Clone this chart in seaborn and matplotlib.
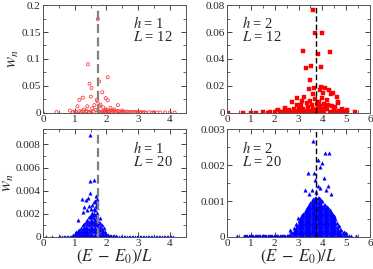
import matplotlib
matplotlib.use("Agg")
import matplotlib.pyplot as plt
import seaborn as sns
from matplotlib.ticker import MultipleLocator, FuncFormatter

# h=1, L=12 (open circles)
h1L12_x = [1.73, 1.42, 1.47, 1.53, 2.04, 1.77, 1.51, 1.26, 1.15, 1.87, 1.98, 2.04,
           1.70, 1.72, 1.09, 1.40, 1.62, 1.81, 2.36, 2.13, 1.55, 1.90, 1.66, 1.30,
           0.85, 2.25, 2.50, 1.78, 2.00, 1.95,
           0.00, 0.43, 0.95, 1.05, 1.20, 1.35, 1.45, 1.60, 1.75, 1.85, 1.92, 2.05,
           2.10, 2.18, 2.22, 2.30, 2.40, 2.45, 2.55, 2.60, 2.70, 2.80, 2.90, 3.00,
           3.10, 3.20, 3.35, 3.50, 3.70, 3.85, 4.00, 4.15, 1.00, 1.50, 2.00, 2.50,
           3.00, 1.80, 1.15, 1.25, 1.38, 2.15, 2.35, 2.65, 2.75, 2.85, 2.95, 3.05,
           3.15, 3.25, 3.45, 3.60, 1.88, 1.97, 2.08, 2.27]
h1L12_y = [0.174, 0.090, 0.054, 0.046, 0.066, 0.058, 0.030, 0.028, 0.024, 0.038, 0.027, 0.023,
           0.024, 0.021, 0.012, 0.012, 0.014, 0.015, 0.014, 0.009, 0.008, 0.010, 0.005, 0.006,
           0.004, 0.006, 0.004, 0.012, 0.006, 0.004,
           0.000, 0.001, 0.001, 0.0015, 0.001, 0.002, 0.0015, 0.002, 0.003, 0.002, 0.003, 0.002,
           0.003, 0.002, 0.0035, 0.002, 0.0025, 0.0015, 0.002, 0.001, 0.0015, 0.001, 0.0012, 0.0008,
           0.001, 0.0006, 0.0008, 0.0005, 0.0005, 0.0004, 0.0003, 0.0003, 0.0003, 0.0005, 0.0008, 0.0005,
           0.0002, 0.0007, 0.003, 0.003, 0.003, 0.0045, 0.003, 0.002, 0.0008, 0.0006, 0.0009, 0.0004,
           0.0005, 0.0004, 0.0003, 0.0002, 0.0012, 0.0015, 0.0010, 0.0011]

# h=2, L=12 (filled squares)
h2L12_x = [3.59, 3.69, 4.00, 3.17, 4.31, 3.80, 3.52, 3.30, 3.93, 3.47, 3.44, 3.93,
           4.11, 3.89, 4.28, 3.65, 4.43, 3.24, 4.63, 2.73, 3.16, 3.97, 4.18, 3.62,
           4.64, 2.92, 3.06, 3.76, 3.90, 4.11, 4.39, 4.81, 5.02, 2.43, 2.15, 5.37,
           0.67, 0.04, 2.92, 3.34, 3.70, 4.04, 4.36, 4.67, 3.55, 3.40, 3.20, 3.00,
           2.80, 2.60, 3.60, 3.80, 4.00, 4.20, 4.50, 4.70, 4.90, 3.85, 4.25, 3.50,
           3.75, 4.05, 4.55, 3.10, 2.85, 3.30,
           1.20, 1.50, 1.80, 2.00, 2.20, 2.40, 2.55, 2.70, 2.90, 3.05, 3.25, 3.45,
           3.65, 3.85, 4.05, 4.30, 4.60, 4.85, 5.05, 1.00, 1.70, 2.30, 2.65, 3.15,
           3.55, 3.95, 4.45, 4.95]
h2L12_y = [0.0762, 0.0594, 0.0594, 0.0461, 0.0451, 0.0436, 0.0349, 0.0331, 0.0341, 0.0243, 0.0173, 0.0188,
           0.0186, 0.0168, 0.0168, 0.0181, 0.0143, 0.0118, 0.0118, 0.0080, 0.0088, 0.0113, 0.0093, 0.0138,
           0.0080, 0.0055, 0.0043, 0.0063, 0.0048, 0.0043, 0.0048, 0.0030, 0.0023, 0.0038, 0.0018, 0.0003,
           0.0, 0.0, 0.0112, 0.0075, 0.0100, 0.0149, 0.0142, 0.0075, 0.0060, 0.0040, 0.0030, 0.0025,
           0.0030, 0.0020, 0.0030, 0.0035, 0.0030, 0.0025, 0.0028, 0.0015, 0.0012, 0.0080, 0.0060, 0.0090,
           0.0020, 0.0065, 0.0040, 0.0060, 0.0015, 0.0015,
           0.0, 0.0002, 0.0003, 0.0005, 0.0006, 0.0008, 0.0010, 0.0006, 0.0008, 0.0010, 0.0008, 0.0012,
           0.0008, 0.0010, 0.0012, 0.0008, 0.0006, 0.0005, 0.0003, 0.0001, 0.0001, 0.0002, 0.0002, 0.0003,
           0.0002, 0.0003, 0.0002, 0.0001]

# h=1, L=20 (triangles)
h1L20_x = [1.47, 1.49, 1.62, 1.68, 1.70, 1.47, 1.42, 1.35, 1.22, 1.12, 1.40, 1.30,
           1.55, 1.60, 1.81, 1.91, 1.45, 1.50, 1.25, 1.65, 1.58, 1.72, 1.52, 1.66,
           0.95, 0.95,
           1.00, 1.00,
           1.05, 1.05,
           1.10, 1.10, 1.10,
           1.15, 1.15, 1.15,
           1.20, 1.20, 1.20, 1.20,
           1.25, 1.25, 1.25, 1.25,
           1.30, 1.30, 1.30, 1.30, 1.30,
           1.35, 1.35, 1.35, 1.35, 1.35,
           1.40, 1.40, 1.40, 1.40, 1.40, 1.40,
           1.45, 1.45, 1.45, 1.45, 1.45, 1.45,
           1.50, 1.50, 1.50, 1.50, 1.50, 1.50, 1.50,
           1.55, 1.55, 1.55, 1.55, 1.55, 1.55, 1.55,
           1.60, 1.60, 1.60, 1.60, 1.60, 1.60, 1.60, 1.60,
           1.65, 1.65, 1.65, 1.65, 1.65, 1.65, 1.65,
           1.70, 1.70, 1.70, 1.70, 1.70, 1.70, 1.70, 1.70,
           1.75, 1.75, 1.75, 1.75, 1.75,
           1.80, 1.80, 1.80, 1.80, 1.80,
           1.85, 1.85, 1.85, 1.85,
           1.90, 1.90, 1.90,
           1.95, 1.95,
           2.00, 2.00,
           2.05, 2.05,
           2.10,
           0.10, 0.30, 0.50, 0.60, 0.70, 0.80, 0.85, 2.20, 2.30, 2.40, 2.50, 2.60,
           2.70, 2.80, 2.90, 3.00, 3.10, 3.20, 3.30, 3.40, 3.50, 3.60, 3.70, 3.80,
           3.90, 4.00, 4.10, 0.55, 0.65, 0.75, 0.90, 2.15, 2.25, 2.35, 2.45, 2.55,
           2.65, 2.75, 2.85, 2.95, 3.05, 3.15, 3.25, 3.35, 3.45, 3.55, 3.65, 3.75,
           3.85, 3.95, 4.05]
h1L20_y = [0.0088, 0.0048, 0.0049, 0.0035, 0.0033, 0.0038, 0.0034, 0.0032, 0.0033, 0.0015, 0.0023, 0.0026,
           0.0028, 0.0030, 0.0016, 0.0008, 0.0027, 0.0024, 0.0022, 0.0031, 0.0019, 0.0029, 0.0017, 0.0027,
           0.0001, 0.0002,
           0.0001, 0.0003,
           0.0002, 0.0004,
           0.0001, 0.0003, 0.0005,
           0.0002, 0.0004, 0.0006,
           0.0001, 0.0003, 0.0005, 0.0008,
           0.0002, 0.0004, 0.0007, 0.0010,
           0.0001, 0.0003, 0.0005, 0.0008, 0.0011,
           0.0002, 0.0004, 0.0006, 0.0009, 0.0013,
           0.0001, 0.0003, 0.0005, 0.0008, 0.0011, 0.0015,
           0.0002, 0.0004, 0.0007, 0.0010, 0.0013, 0.0017,
           0.0001, 0.0003, 0.0006, 0.0009, 0.0012, 0.0015, 0.0019,
           0.0002, 0.0005, 0.0008, 0.0011, 0.0014, 0.0018, 0.0021,
           0.0001, 0.0004, 0.0007, 0.0010, 0.0013, 0.0016, 0.0020, 0.0024,
           0.0002, 0.0005, 0.0008, 0.0011, 0.0015, 0.0019, 0.0023,
           0.0001, 0.0004, 0.0007, 0.0010, 0.0013, 0.0017, 0.0021, 0.0026,
           0.0002, 0.0005, 0.0008, 0.0011, 0.0014,
           0.0001, 0.0003, 0.0006, 0.0009, 0.0012,
           0.0002, 0.0004, 0.0007, 0.0010,
           0.0001, 0.0003, 0.0005,
           0.0002, 0.0004,
           0.0001, 0.0003,
           0.0001, 0.0002,
           0.0001,
           0.00003, 0.00003, 0.00003, 0.00003, 0.00003, 0.00003, 0.00003, 0.00005, 0.00005, 0.00004, 0.00004, 0.00004,
           0.00003, 0.00003, 0.00003, 0.00003, 0.00003, 0.00003, 0.00003, 0.00003, 0.00003, 0.00003, 0.00003, 0.00003,
           0.00003, 0.00003, 0.00003, 0.00003, 0.00003, 0.00003, 0.00003, 0.00005, 0.00005, 0.00004, 0.00004, 0.00004,
           0.00003, 0.00003, 0.00003, 0.00003, 0.00003, 0.00003, 0.00003, 0.00003, 0.00003, 0.00003, 0.00003, 0.00003,
           0.00003, 0.00003, 0.00003]

# h=2, L=20 (triangles)
h2L20_x = [3.59, 4.11, 4.28, 3.80, 3.97, 3.88, 3.65, 3.41, 3.69, 3.80, 3.90, 3.55,
           3.27, 4.25, 2.99, 2.66, 4.49, 4.05, 4.35, 3.45, 3.72, 4.15,
           2.6,
           2.7, 2.7,
           2.8, 2.8, 2.8,
           2.9, 2.9, 2.9, 2.9,
           3.0, 3.0, 3.0, 3.0, 3.0,
           3.1, 3.1, 3.1, 3.1, 3.1, 3.1,
           3.2, 3.2, 3.2, 3.2, 3.2, 3.2, 3.2,
           3.3, 3.3, 3.3, 3.3, 3.3, 3.3, 3.3, 3.3,
           3.4, 3.4, 3.4, 3.4, 3.4, 3.4, 3.4, 3.4, 3.4,
           3.5, 3.5, 3.5, 3.5, 3.5, 3.5, 3.5, 3.5, 3.5, 3.5,
           3.6, 3.6, 3.6, 3.6, 3.6, 3.6, 3.6, 3.6, 3.6, 3.6, 3.6,
           3.7, 3.7, 3.7, 3.7, 3.7, 3.7, 3.7, 3.7, 3.7, 3.7, 3.7,
           3.8, 3.8, 3.8, 3.8, 3.8, 3.8, 3.8, 3.8, 3.8, 3.8, 3.8,
           3.9, 3.9, 3.9, 3.9, 3.9, 3.9, 3.9, 3.9, 3.9, 3.9, 3.9,
           4.0, 4.0, 4.0, 4.0, 4.0, 4.0, 4.0, 4.0, 4.0, 4.0,
           4.1, 4.1, 4.1, 4.1, 4.1, 4.1, 4.1, 4.1, 4.1,
           4.2, 4.2, 4.2, 4.2, 4.2, 4.2, 4.2, 4.2, 4.2,
           4.3, 4.3, 4.3, 4.3, 4.3, 4.3, 4.3, 4.3,
           4.4, 4.4, 4.4, 4.4, 4.4, 4.4, 4.4,
           4.5, 4.5, 4.5, 4.5, 4.5, 4.5,
           4.6, 4.6, 4.6, 4.6,
           4.7, 4.7, 4.7,
           4.8, 4.8,
           4.9, 4.9,
           5.0,
           2.75,
           2.85, 2.85,
           2.95, 2.95, 2.95,
           3.05, 3.05, 3.05, 3.05, 3.05,
           3.15, 3.15, 3.15, 3.15, 3.15, 3.15,
           3.25, 3.25, 3.25, 3.25, 3.25, 3.25, 3.25,
           3.35, 3.35, 3.35, 3.35, 3.35, 3.35, 3.35, 3.35,
           3.45, 3.45, 3.45, 3.45, 3.45, 3.45, 3.45, 3.45, 3.45,
           3.55, 3.55, 3.55, 3.55, 3.55, 3.55, 3.55, 3.55, 3.55, 3.55,
           3.65, 3.65, 3.65, 3.65, 3.65, 3.65, 3.65, 3.65, 3.65, 3.65,
           3.75, 3.75, 3.75, 3.75, 3.75, 3.75, 3.75, 3.75, 3.75, 3.75, 3.75,
           3.85, 3.85, 3.85, 3.85, 3.85, 3.85, 3.85, 3.85, 3.85, 3.85, 3.85,
           3.95, 3.95, 3.95, 3.95, 3.95, 3.95, 3.95, 3.95, 3.95, 3.95,
           4.05, 4.05, 4.05, 4.05, 4.05, 4.05, 4.05, 4.05, 4.05,
           4.15, 4.15, 4.15, 4.15, 4.15, 4.15, 4.15, 4.15,
           4.25, 4.25, 4.25, 4.25, 4.25, 4.25, 4.25, 4.25,
           4.35, 4.35, 4.35, 4.35, 4.35, 4.35, 4.35,
           4.45, 4.45, 4.45, 4.45, 4.45, 4.45,
           4.55, 4.55, 4.55, 4.55, 4.55,
           4.65, 4.65, 4.65,
           4.75, 4.75,
           4.85,
           0.40, 0.70, 0.80, 0.90, 1.00, 1.10, 1.20, 1.30, 1.40, 1.50, 1.60, 1.70,
           1.80, 1.90, 2.00, 2.10, 2.20, 2.30, 2.40, 2.50, 5.10, 5.20, 5.40,
           0.75, 0.85, 0.95, 1.05, 1.15, 1.25, 1.35, 1.45, 1.55, 1.65, 1.75, 1.85,
           1.95, 2.05, 2.15, 2.25, 2.35, 2.45, 2.55, 5.05]
h2L20_y = [0.00267, 0.00234, 0.00233, 0.00216, 0.00207, 0.00195, 0.00179, 0.00179, 0.00160, 0.00141, 0.00137, 0.00132,
           0.00132, 0.00141, 0.00053, 0.00020, 0.00058, 0.00165, 0.00120, 0.00120, 0.00125, 0.00130,
           0.00005,
           0.00005, 0.00015,
           0.00005, 0.00015, 0.00025,
           0.00005, 0.00015, 0.00025, 0.00035,
           0.00005, 0.00015, 0.00025, 0.00035, 0.00045,
           0.00005, 0.00015, 0.00025, 0.00035, 0.00045, 0.00055,
           0.00005, 0.00015, 0.00025, 0.00035, 0.00045, 0.00055, 0.00065,
           0.00005, 0.00015, 0.00025, 0.00035, 0.00045, 0.00055, 0.00065, 0.00075,
           0.00005, 0.00015, 0.00025, 0.00035, 0.00045, 0.00055, 0.00065, 0.00075, 0.00085,
           0.00005, 0.00015, 0.00025, 0.00035, 0.00045, 0.00055, 0.00065, 0.00075, 0.00085, 0.00095,
           0.00005, 0.00015, 0.00025, 0.00035, 0.00045, 0.00055, 0.00065, 0.00075, 0.00085, 0.00095, 0.00105,
           0.00005, 0.00015, 0.00025, 0.00035, 0.00045, 0.00055, 0.00065, 0.00075, 0.00085, 0.00095, 0.00110,
           0.00005, 0.00015, 0.00025, 0.00035, 0.00045, 0.00055, 0.00065, 0.00075, 0.00085, 0.00095, 0.00110,
           0.00005, 0.00015, 0.00025, 0.00035, 0.00045, 0.00055, 0.00065, 0.00075, 0.00085, 0.00095, 0.00105,
           0.00005, 0.00015, 0.00025, 0.00035, 0.00045, 0.00055, 0.00065, 0.00075, 0.00085, 0.00100,
           0.00005, 0.00015, 0.00025, 0.00035, 0.00045, 0.00055, 0.00065, 0.00075, 0.00090,
           0.00005, 0.00015, 0.00025, 0.00035, 0.00045, 0.00055, 0.00065, 0.00075, 0.00085,
           0.00005, 0.00015, 0.00025, 0.00035, 0.00045, 0.00055, 0.00065, 0.00075,
           0.00005, 0.00015, 0.00025, 0.00035, 0.00045, 0.00055, 0.00065,
           0.00005, 0.00015, 0.00025, 0.00035, 0.00045, 0.00055,
           0.00005, 0.00015, 0.00025, 0.00040,
           0.00005, 0.00015, 0.00030,
           0.00005, 0.00020,
           0.00005, 0.00015,
           0.00010,
           0.0001,
           0.0001, 0.0002,
           0.0001, 0.0002, 0.0003,
           0.0001, 0.0002, 0.0003, 0.0004, 0.0005,
           0.0001, 0.0002, 0.0003, 0.0004, 0.0005, 0.0006,
           0.0001, 0.0002, 0.0003, 0.0004, 0.0005, 0.0006, 0.0007,
           0.0001, 0.0002, 0.0003, 0.0004, 0.0005, 0.0006, 0.0007, 0.0008,
           0.0001, 0.0002, 0.0003, 0.0004, 0.0005, 0.0006, 0.0007, 0.0008, 0.0009,
           0.0001, 0.0002, 0.0003, 0.0004, 0.0005, 0.0006, 0.0007, 0.0008, 0.0009, 0.0010,
           0.0001, 0.0002, 0.0003, 0.0004, 0.0005, 0.0006, 0.0007, 0.0008, 0.0009, 0.0010,
           0.0001, 0.0002, 0.0003, 0.0004, 0.0005, 0.0006, 0.0007, 0.0008, 0.0009, 0.0010, 0.0011,
           0.0001, 0.0002, 0.0003, 0.0004, 0.0005, 0.0006, 0.0007, 0.0008, 0.0009, 0.0010, 0.0011,
           0.0001, 0.0002, 0.0003, 0.0004, 0.0005, 0.0006, 0.0007, 0.0008, 0.0009, 0.0010,
           0.0001, 0.0002, 0.0003, 0.0004, 0.0005, 0.0006, 0.0007, 0.0008, 0.0009,
           0.0001, 0.0002, 0.0003, 0.0004, 0.0005, 0.0006, 0.0007, 0.0008,
           0.0001, 0.0002, 0.0003, 0.0004, 0.0005, 0.0006, 0.0007, 0.0008,
           0.0001, 0.0002, 0.0003, 0.0004, 0.0005, 0.0006, 0.0007,
           0.0001, 0.0002, 0.0003, 0.0004, 0.0005, 0.0006,
           0.0001, 0.0002, 0.0003, 0.0004, 0.0005,
           0.0001, 0.0002, 0.0003,
           0.0001, 0.0002,
           0.0001,
           0.00002, 0.00002, 0.00002, 0.00002, 0.00002, 0.00002, 0.00002, 0.00002, 0.00002, 0.00002, 0.00002, 0.00002,
           0.00002, 0.00002, 0.00002, 0.00002, 0.00002, 0.00002, 0.00002, 0.00002, 0.00002, 0.00002, 0.00002,
           0.00002, 0.00002, 0.00002, 0.00002, 0.00002, 0.00002, 0.00002, 0.00002, 0.00002, 0.00002, 0.00002, 0.00002,
           0.00002, 0.00002, 0.00002, 0.00002, 0.00002, 0.00002, 0.00002, 0.00002]

# vertical reference lines
vline_h1 = 1.73
vline_h2 = 3.72

sns.set_style("ticks")
plt.rcParams['font.family'] = ['Liberation Serif', 'DejaVu Serif']
plt.rcParams['mathtext.fontset'] = 'stix'
plt.rcParams['font.size'] = 8

fig, axes = plt.subplots(2, 2, figsize=(3.73, 2.69), dpi=100)
fig.subplots_adjust(left=0.115, right=0.992, top=0.981, bottom=0.119,
                    wspace=0.29, hspace=0.155)

panels = [
    (axes[0, 0], h1L12_x, h1L12_y, 'o', 'red', True, 4.5, 0.2, 0.05, 0.025, vline_h1, 'gray', 1.6, '$h$ = 1', '$L$ = 12', 0.63),
    (axes[0, 1], h2L12_x, h2L12_y, 's', 'red', False, 6, 0.08, 0.02, 0.01, vline_h2, 'black', 1.0, '$h$ = 2', '$L$ = 12', 0.105),
    (axes[1, 0], h1L20_x, h1L20_y, '^', 'blue', False, 4.5, 0.0093, 0.002, 0.001, vline_h1, 'gray', 1.6, '$h$ = 1', '$L$ = 20', 0.63),
    (axes[1, 1], h2L20_x, h2L20_y, '^', 'blue', False, 6, 0.003, 0.001, 0.0005, vline_h2, 'black', 1.0, '$h$ = 2', '$L$ = 20', 0.105),
]

for ax, xs, ys, mk, col, hollow, xmax, ymax, ymaj, ymin, xv, vcol, vlw, t1, t2, tx in panels:
    if hollow:
        sns.scatterplot(x=xs, y=ys, ax=ax, marker=mk, s=5, facecolors='none',
                        edgecolor='#ff3030', linewidth=0.55, zorder=2)
    else:
        sns.scatterplot(x=xs, y=ys, ax=ax, marker=mk, s=6, color=col,
                        edgecolor=col, linewidth=0.3, zorder=2)
    ax.axvline(xv, color=vcol, lw=vlw, ls=(0, (4, 2)), zorder=3)
    ax.set_xlim(0, xmax)
    ax.set_ylim(0, ymax)
    ax.xaxis.set_major_locator(MultipleLocator(1))
    ax.xaxis.set_minor_locator(MultipleLocator(0.5))
    ax.yaxis.set_major_locator(MultipleLocator(ymaj))
    ax.yaxis.set_minor_locator(MultipleLocator(ymin))
    ax.yaxis.set_major_formatter(FuncFormatter(lambda v, p: '%g' % round(v, 6)))
    ax.tick_params(which='both', direction='in', top=True, right=True, labelsize=8, pad=1.5)
    ax.tick_params(which='major', length=3.5, width=0.6)
    ax.tick_params(which='minor', length=2, width=0.5)
    for sp in ax.spines.values():
        sp.set_linewidth(0.7)
        sp.set_color('#555555')
    ax.text(tx, 0.83, t1, transform=ax.transAxes, fontsize=10.5, ha='left', va='center')
    ax.text(tx, 0.70, t2, transform=ax.transAxes, fontsize=10.5, ha='left', va='center')

axes[0, 0].set_ylabel(r'$w_n$', fontsize=12, labelpad=0)
axes[1, 0].set_ylabel(r'$w_n$', fontsize=12, labelpad=0)
axes[1, 0].set_xlabel(r'$(E\;-\;E_0)/L$', fontsize=12, labelpad=0)
axes[1, 1].set_xlabel(r'$(E\;-\;E_0)/L$', fontsize=12, labelpad=0)

fig.savefig('out.png', dpi=100)
